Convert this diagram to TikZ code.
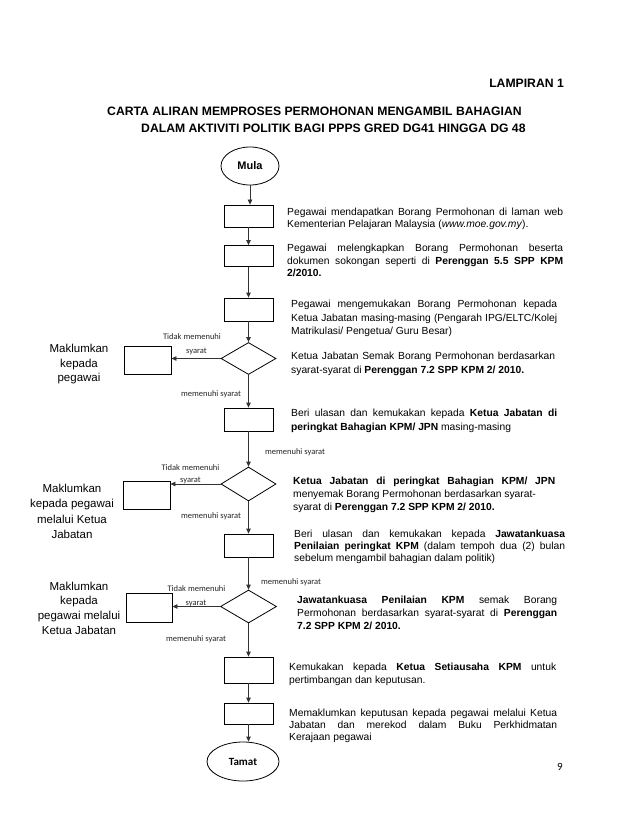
\documentclass[tikz,border=0pt]{standalone}
\usepackage{fontspec}
\setmainfont{Liberation Sans}
\newfontfamily\calfont{Carlito}
\usetikzlibrary{shapes.geometric,arrows.meta}
\setlength{\parindent}{0pt}
\hyphenpenalty=10000
\begin{document}
\begin{tikzpicture}[x=1pt,y=-1pt,
  box/.style={draw,line width=0.8pt,minimum width=49pt,minimum height=22pt,inner sep=0pt},
  sidebox/.style={draw,line width=0.8pt,minimum width=47pt,minimum height=28pt,inner sep=0pt},
  dia/.style={draw,diamond,line width=0.8pt,minimum width=55pt,minimum height=32pt,inner sep=0pt},
  term/.style={draw,ellipse,line width=0.8pt,inner sep=0pt},
  arr/.style={draw=black!80,line width=0.8pt,-{Triangle[length=5pt,width=4.5pt]}},
  body/.style={anchor=north west,inner sep=0pt,align=justify,font=\fontsize{10.3}{12}\selectfont},
  small/.style={inner sep=0pt,text=black!85,font=\calfont\fontsize{8.5}{10}\selectfont},
  side/.style={inner sep=0pt,align=center},
  head/.style={inner sep=0pt,font=\bfseries\fontsize{12.2}{14}\selectfont}
]
\useasboundingbox[fill=white] (0,0) rectangle (638,826);

% headings
\node[head,anchor=east] (lamp) at (564,83) {LAMPIRAN 1};
\node[head,anchor=west] (t1) at (107,111) {CARTA ALIRAN MEMPROSES PERMOHONAN MENGAMBIL BAHAGIAN};
\node[head,anchor=west] (t2) at (141,128) {DALAM AKTIVITI POLITIK BAGI PPPS GRED DG41 HINGGA DG 48};

% main column
\node[term,minimum width=58pt,minimum height=38pt,font=\bfseries\fontsize{11}{13}\selectfont] (mula) at (250,166) {Mula};
\node[box] (b1) at (248.5,216) {};
\node[box,minimum height=21pt] (b2) at (248.5,256) {};
\node[box,minimum height=23pt] (b3) at (248.5,309.5) {};
\node[dia] (d1) at (248.5,358.5) {};
\node[box,minimum height=23pt] (b4) at (248.5,419.5) {};
\node[dia,minimum height=34pt] (d2) at (248.5,484) {};
\node[box,minimum height=23pt] (b5) at (248.5,545.5) {};
\node[dia,minimum width=56pt,minimum height=33pt] (d3) at (248.5,606.5) {};
\node[box,minimum height=26pt] (b6) at (248.5,670) {};
\node[box,minimum height=21pt] (b7) at (248.5,713.5) {};
\node[term,minimum width=72pt,minimum height=39pt,font=\calfont\bfseries\fontsize{11}{13}\selectfont] (tamat) at (243,761.5) {Tamat};

% side boxes
\node[sidebox] (l1) at (147.5,360) {};
\node[sidebox] (l2) at (146.5,495) {};
\node[sidebox,minimum width=46pt,minimum height=29pt] (l3) at (149,607.5) {};

% connectors
\draw[arr] (mula.south) -- (mula.south |- b1.north);
\draw[arr] (b1) -- (b2);
\draw[arr] (b2) -- (b3);
\draw[arr] (b3) -- (d1);
\draw[arr] (d1) -- (b4);
\draw[arr] (b4) -- (d2);
\draw[arr] (d2) -- (b5);
\draw[arr] (b5) -- (d3);
\draw[arr] (d3) -- (b6);
\draw[arr] (b6) -- (b7);
\draw[arr] (b7.south) -- (b7.south |- tamat.north);
\draw[arr] (d1.west) -- (d1.west -| l1.east);
\draw[arr] (d2.west) -- (d2.west -| l2.east);
\draw[arr] (d3.west) -- (d3.west -| l3.east);

% small labels
\node[small] (n1a) at (192,337) {Tidak memenuhi};
\node[small] (n1b) at (196.5,351) {syarat};
\node[small] (y1) at (211,394) {memenuhi syarat};
\node[small] (y2) at (295,452) {memenuhi syarat};
\node[small] (n2a) at (190.5,468) {Tidak memenuhi};
\node[small] (n2b) at (190.5,480.5) {syarat};
\node[small] (y3) at (211,516) {memenuhi syarat};
\node[small] (y4) at (291,582) {memenuhi syarat};
\node[small] (n3a) at (196.5,589) {Tidak memenuhi};
\node[small] (n3b) at (196,603.5) {syarat};
\node[small] (y5) at (196,639) {memenuhi syarat};

% side texts
\node[side,font=\fontsize{11.5}{14.5}\selectfont] (m1) at (79,364.5) {Maklumkan\\kepada\\pegawai};
\node[side,font=\fontsize{11.5}{15.5}\selectfont] (m2) at (72,511.5) {Maklumkan\\kepada pegawai\\melalui Ketua\\Jabatan};
\node[side,font=\fontsize{11.5}{14.7}\selectfont] (m3) at (79,608) {Maklumkan\\kepada\\pegawai melalui\\Ketua Jabatan};

% body texts
\node[body,text width=276pt] (x1) at (287,208.3) {Pegawai mendapatkan Borang Permohonan di laman web\linebreak Kementerian Pelajaran Malaysia (\textit{www.moe.gov.my}).};
\node[body,text width=276pt,font=\fontsize{10.3}{12.5}\selectfont] (x2) at (287,244.3) {Pegawai melengkapkan Borang Permohonan beserta\linebreak dokumen sokongan seperti di \textbf{Perenggan 5.5 SPP KPM}\linebreak \textbf{2/2010.}};
\node[body,text width=266pt,font=\fontsize{10.3}{13.5}\selectfont] (x3) at (291,300.3) {Pegawai mengemukakan Borang Permohonan kepada\linebreak Ketua Jabatan masing-masing (Pengarah IPG/ELTC/Kolej\linebreak Matrikulasi/ Pengetua/ Guru Besar)};
\node[body,text width=264pt,font=\fontsize{10.3}{13.5}\selectfont] (x4) at (291,352.3) {Ketua Jabatan Semak Borang Permohonan berdasarkan\linebreak syarat-syarat di \textbf{Perenggan 7.2 SPP KPM 2/ 2010.}};
\node[body,text width=266pt,font=\fontsize{10.3}{14}\selectfont] (x5) at (291,409.3) {Beri ulasan dan kemukakan kepada \textbf{Ketua Jabatan di}\linebreak \textbf{peringkat Bahagian KPM/ JPN} masing-masing};
\node[body,text width=262pt,font=\fontsize{10.3}{13}\selectfont] (x6) at (293,477.3) {\textbf{Ketua Jabatan di peringkat Bahagian KPM/ JPN}\linebreak menyemak Borang Permohonan berdasarkan syarat-\\ syarat di \textbf{Perenggan 7.2 SPP KPM 2/ 2010.}};
\node[body,text width=271pt,font=\fontsize{10.3}{12}\selectfont] (x7) at (294,530.3) {Beri ulasan dan kemukakan kepada \textbf{Jawatankuasa}\linebreak \textbf{Penilaian peringkat KPM} (dalam tempoh dua (2) bulan\linebreak sebelum mengambil bahagian dalam politik)};
\node[body,text width=260pt,font=\fontsize{10.3}{13}\selectfont] (x8) at (297,596.3) {\textbf{Jawatankuasa Penilaian KPM} semak Borang\linebreak Permohonan berdasarkan syarat-syarat di \textbf{Perenggan}\linebreak \textbf{7.2 SPP KPM 2/ 2010.}};
\node[body,text width=267pt,font=\fontsize{10.3}{12.5}\selectfont] (x9) at (289,663.3) {Kemukakan kepada \textbf{Ketua Setiausaha KPM} untuk\linebreak pertimbangan dan keputusan.};
\node[body,text width=268pt,font=\fontsize{10.3}{12}\selectfont] (x10) at (289,709.3) {Memaklumkan keputusan kepada pegawai melalui Ketua\linebreak Jabatan dan merekod dalam Buku Perkhidmatan\linebreak Kerajaan pegawai};

% page number
\node[inner sep=0pt,font=\calfont\fontsize{11}{13}\selectfont] (pg) at (560,767) {9};
\end{tikzpicture}
\end{document}
